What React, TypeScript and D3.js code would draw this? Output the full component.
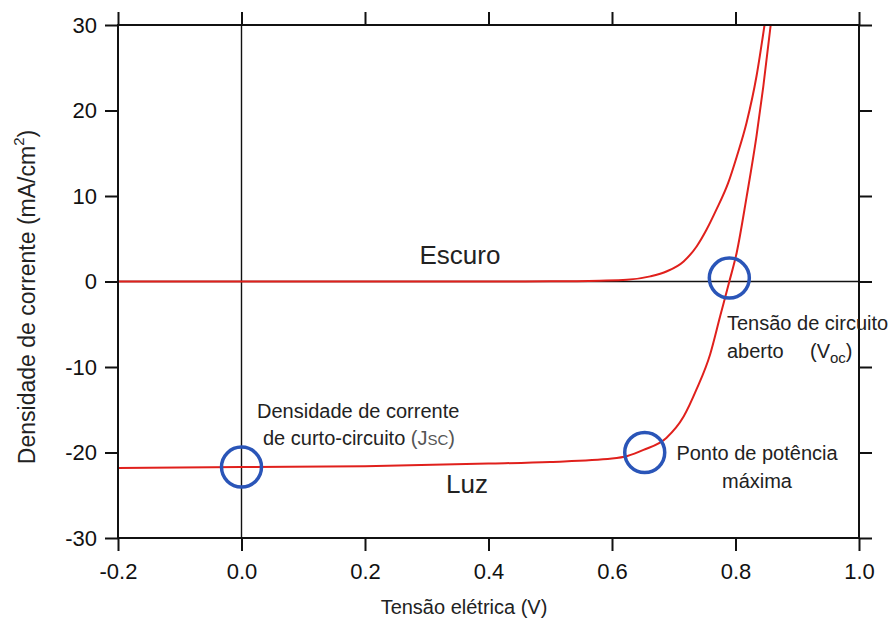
import React, { useEffect, useRef } from 'react';
import * as d3 from 'd3';

// curva no escuro (V, mA/cm2)
const darkV = [-0.2, 0.0, 0.2, 0.4, 0.5, 0.58, 0.624, 0.662, 0.689, 0.716, 0.737, 0.753, 0.769, 0.788, 0.802, 0.818, 0.834, 0.847];
const darkJ = [0, 0, 0, 0, 0.02, 0.1, 0.2, 0.6, 1.2, 2.35, 4.1, 6.05, 8.4, 11.5, 14.6, 18.6, 24, 30];

// curva sob luz
const lightV = [-0.2, 0.0, 0.2, 0.4, 0.5, 0.6, 0.625, 0.651, 0.688, 0.716, 0.737, 0.759, 0.775, 0.79, 0.802, 0.818, 0.834, 0.845, 0.857];
const lightJ = [-21.8, -21.7, -21.6, -21.3, -21.1, -20.7, -20.4, -19.7, -18.3, -15.8, -12.6, -8.5, -4.1, 0, 3.4, 9.9, 17.0, 22.8, 30];

// pontos marcados com círculos: Jsc, Voc, potência máxima
const markV = [0.0, 0.79, 0.653];
const markJ = [-21.7, 0.4, -20];

const xTicks = [-0.2, 0.0, 0.2, 0.4, 0.6, 0.8, 1.0];
const xTickLabels = ['-0.2', '0.0', '0.2', '0.4', '0.6', '0.8', '1.0'];
const yTicks = [-30, -20, -10, 0, 10, 20, 30];
const yTickLabels = ['-30', '-20', '-10', '0', '10', '20', '30'];

const FONT = '"Liberation Sans", Arial, sans-serif';

const App = () => {
  const ref = useRef<SVGSVGElement>(null);

  useEffect(() => {
    const svg = d3.select(ref.current);
    svg.selectAll('*').remove();

    const left = 118, right = 859, top = 25, bottom = 538;
    const x = d3.scaleLinear().domain([-0.2, 1.0]).range([left, right]);
    const y = d3.scaleLinear().domain([-30, 30]).range([bottom, top]);

    svg.append('rect').attr('width', 893).attr('height', 621).attr('fill', '#fff');

    svg.append('clipPath').attr('id', 'plot')
      .append('rect').attr('x', left).attr('y', top).attr('width', right - left).attr('height', bottom - top);

    // linhas de zero
    svg.append('line')
      .attr('x1', left).attr('x2', right).attr('y1', y(0)).attr('y2', y(0))
      .attr('stroke', '#111').attr('stroke-width', 1.4);
    svg.append('line')
      .attr('x1', x(0)).attr('x2', x(0)).attr('y1', top).attr('y2', bottom)
      .attr('stroke', '#111').attr('stroke-width', 1.4);

    // curvas
    const line = d3.line<[number, number]>()
      .x(d => x(d[0]))
      .y(d => y(d[1]))
      .curve(d3.curveMonotoneX);

    const curves = [
      darkV.map((v, i) => [v, darkJ[i]] as [number, number]),
      lightV.map((v, i) => [v, lightJ[i]] as [number, number]),
    ];
    svg.append('g').attr('clip-path', 'url(#plot)')
      .selectAll('path')
      .data(curves)
      .enter()
      .append('path')
      .attr('d', d => line(d))
      .attr('fill', 'none')
      .attr('stroke', '#e0201c')
      .attr('stroke-width', 2);

    // eixos
    const styleAxis = (g: any) => {
      g.select('.domain').remove();
      g.selectAll('.tick line').attr('stroke', '#111').attr('stroke-width', 2);
      g.selectAll('.tick text')
        .attr('fill', '#111')
        .style('font-family', FONT)
        .style('font-size', '22px');
    };

    svg.append('g')
      .attr('transform', `translate(${left},0)`)
      .call(d3.axisLeft(y).tickValues(yTicks).tickFormat((d, i) => yTickLabels[i]).tickSize(13).tickPadding(8))
      .call(styleAxis);
    svg.append('g')
      .attr('transform', `translate(${right},0)`)
      .call(d3.axisRight(y).tickValues(yTicks).tickFormat(() => '').tickSize(13))
      .call(styleAxis);
    svg.append('g')
      .attr('transform', `translate(0,${bottom})`)
      .call(d3.axisBottom(x).tickValues(xTicks).tickFormat((d, i) => xTickLabels[i]).tickSize(13).tickPadding(12))
      .call(styleAxis);
    svg.append('g')
      .attr('transform', `translate(0,${top})`)
      .call(d3.axisTop(x).tickValues(xTicks).tickFormat(() => '').tickSize(13))
      .call(styleAxis);

    svg.append('rect')
      .attr('x', left).attr('y', top).attr('width', right - left).attr('height', bottom - top)
      .attr('fill', 'none').attr('stroke', '#111').attr('stroke-width', 2);

    // círculos azuis
    svg.append('g')
      .selectAll('circle')
      .data(markV)
      .enter()
      .append('circle')
      .attr('cx', d => x(d))
      .attr('cy', (d, i) => y(markJ[i]))
      .attr('r', 20)
      .attr('fill', 'none')
      .attr('stroke', '#2a55b8')
      .attr('stroke-width', 3.5);

    // títulos dos eixos
    svg.append('text')
      .attr('x', 464).attr('y', 614)
      .attr('text-anchor', 'middle')
      .attr('fill', '#222')
      .style('font-family', FONT).style('font-size', '20px')
      .text('Tensão elétrica (V)');

    const yt = svg.append('text')
      .attr('transform', 'translate(35,297) rotate(-90)')
      .attr('text-anchor', 'middle')
      .attr('fill', '#222')
      .style('font-family', FONT).style('font-size', '23px');
    yt.append('tspan').text('Densidade de corrente (mA/cm');
    yt.append('tspan').attr('dy', -11).style('font-size', '15px').text('2');
    yt.append('tspan').attr('dy', 11).text(')');

    // rótulos
    const label = (tx: number, ty: number, size: number, anchor = 'start') =>
      svg.append('text')
        .attr('x', tx).attr('y', ty)
        .attr('text-anchor', anchor)
        .attr('fill', '#222')
        .style('font-family', FONT).style('font-size', `${size}px`);

    label(460, 264, 26, 'middle').text('Escuro');
    label(467, 493, 26, 'middle').text('Luz');

    label(257, 418, 20).text('Densidade de corrente');
    const jsc = label(263, 445, 20);
    jsc.append('tspan').text('de curto-circuito ');
    jsc.append('tspan').attr('fill', '#555').text('(J');
    jsc.append('tspan').attr('fill', '#555').style('font-size', '15px').text('SC');
    jsc.append('tspan').attr('fill', '#555').text(')');

    label(727, 330, 20).text('Tensão de circuito');
    label(727, 358, 20).text('aberto');
    const voc = label(810, 358, 20);
    voc.append('tspan').text('(V');
    voc.append('tspan').attr('dy', 5).style('font-size', '15px').text('oc');
    voc.append('tspan').attr('dy', -5).text(')');

    label(757, 460, 20, 'middle').text('Ponto de potência');
    label(757, 488, 20, 'middle').text('máxima');
  }, []);

  return (
    <svg
      ref={ref}
      width={893}
      height={621}
      style={{ position: 'absolute', left: 0, top: 0 }}
    />
  );
};

export default App;
